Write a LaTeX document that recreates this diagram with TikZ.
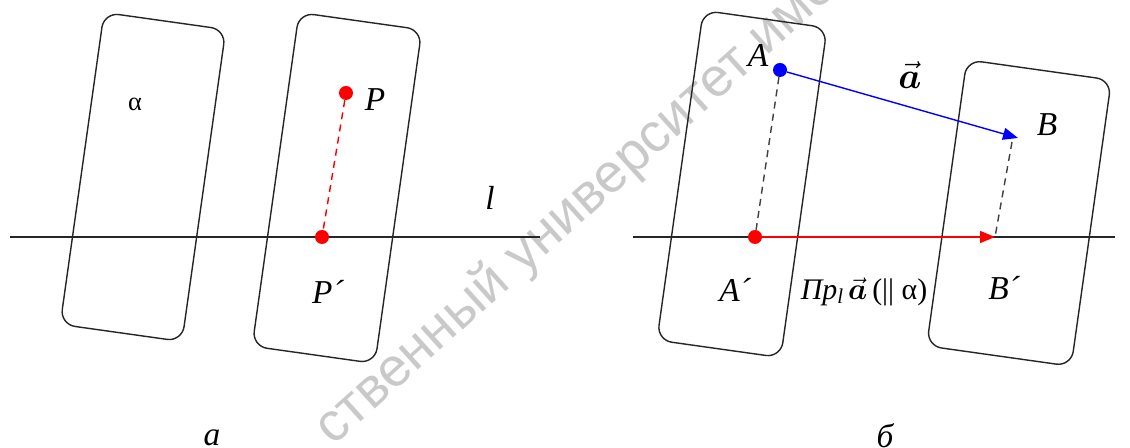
\documentclass[tikz,border=0pt]{standalone}
\usepackage{amsmath,bm}
\usepackage{fontspec}
\setmainfont{Liberation Serif}
\newfontfamily\wmfont{Liberation Sans}
\usetikzlibrary{arrows.meta}
\tikzset{
  plane/.style={draw=black!85, line width=0.8pt, rounded corners=0.3cm, rotate=-8, inner sep=0pt},
  dot/.style={circle, inner sep=0pt, minimum size=0.28cm},
  lbl/.style={inner sep=0pt, font=\fontsize{19}{22}\selectfont\itshape},
  axis/.style={draw=black!85, line width=0.8pt},
  proj/.style={line width=0.8pt, dash pattern=on 4pt off 3pt},
  tip/.style={-{Triangle[length=0.3cm,width=0.24cm]}}
}
\begin{document}
\begin{tikzpicture}[x=0.02cm, y=-0.02cm]
\useasboundingbox (0,0) rectangle (1130,448);
\fill[white] (0,0) rectangle (1130,448);
% watermark
\begin{scope}
\clip (0,0) rectangle (1130,448);
\node[rotate=42, anchor=base west, inner sep=0pt, text=black!21, font=\wmfont\fontsize{31}{36}\selectfont] (wm) at (333,447) {ственный университет имени};
\end{scope}
% ---------- panel a ----------
\coordinate (l1) at (10,237);
\coordinate (l2) at (540,237);
\node[plane, minimum width=2.46cm, minimum height=6.3cm] (alpha) at (143,177) {};
\node[plane, minimum width=2.48cm, minimum height=6.74cm] (pplane) at (337,188) {};
\draw[axis] (l1) -- (l2);
\node[dot, fill=red] (P) at (346,93) {};
\node[dot, fill=red] (Pp) at (322,237) {};
\draw[proj, red] (P) -- (Pp);
\node[inner sep=0pt, font=\fontsize{15}{18}\selectfont] (alab) at (135,104) {α};
\node[lbl] (Plab) at (375,100) {P};
\node[lbl] (Pplab) at (328,292) {P´};
\node[lbl] (llab) at (490,198) {l};
\node[lbl] (capa) at (212,438) {а};
% ---------- panel b ----------
\coordinate (m1) at (633,237);
\coordinate (m2) at (1115,237);
\node[plane, minimum width=2.5cm, minimum height=6.66cm] (aplane) at (742,184) {};
\node[plane, minimum width=2.92cm, minimum height=5.78cm] (bplane) at (1019,213) {};
\draw[axis] (m1) -- (m2);
\node[dot, fill=blue] (A) at (780,70) {};
\node[dot, fill=red] (Ap) at (755,237) {};
\coordinate (B) at (1018,138);
\coordinate (Bp) at (995,237);
\coordinate (Bd) at (1012,142);
\draw[proj, black!75] (A) -- (Ap);
\draw[proj, black!75] (Bd) -- (Bp);
\draw[tip, blue, line width=0.8pt] (A) -- (B);
\draw[tip, red, line width=0.8pt] (Ap) -- (Bp);
\node[lbl] (Alab) at (758,55) {A};
\node[lbl] (Aplab) at (735,290) {A´};
\node[lbl] (Blab) at (1047,125) {B};
\node[lbl] (Bplab) at (1004,288) {B´};
\node[inner sep=0pt, font=\fontsize{21}{24}\selectfont] (veca) at (910,75) {$\vec{\bm{a}}$};
\node[inner sep=0pt, font=\fontsize{17}{20}\selectfont] (prlab) at (864,292) {\textit{Пр}\raisebox{-0.3ex}{\fontsize{12}{14}\selectfont\textit{l}}\,$\vec{\bm{a}}$\,(|| α)};
\node[lbl] (capb) at (885,436) {б};
\end{tikzpicture}
\end{document}
